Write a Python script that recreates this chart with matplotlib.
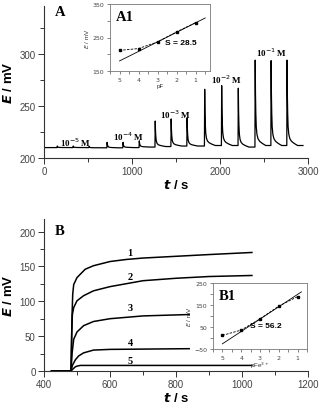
import numpy as np
import matplotlib
matplotlib.use("Agg")
import matplotlib.pyplot as plt
from matplotlib.ticker import MultipleLocator, FixedLocator

# ---------------- data: panel A (time trace) ----------------
spike_t = [151, 332, 513, 717, 898, 1083, 1264, 1445, 1626, 1826, 2019, 2208, 2400, 2581, 2762]
spike_E = [211.5, 211.5, 211.2, 215, 215, 216.5, 235.5, 237.5, 238.5, 266, 269.5, 267, 294, 293.5, 294]
base_after = [210, 210, 209.8, 209.8, 210, 210.5, 211, 211.5, 211.5, 212, 212, 210.5, 212, 212, 212]
trace_start = (0, 210)
trace_end = (2943, 212)
# decay profile of each spike (seconds after peak, remaining fraction)
decay_dt = [0, 3, 7, 12, 20, 32, 50, 80, 120]
decay_frac = [1.0, 0.62, 0.38, 0.22, 0.13, 0.08, 0.05, 0.025, 0.0]
conc_labels = ["10$^{-5}$ M", "10$^{-4}$ M", "10$^{-3}$ M", "10$^{-2}$ M", "10$^{-1}$ M"]
conc_t = [360, 962, 1490, 2075, 2585]
conc_E = [216, 221, 242, 276, 302]

# inset A1
a1_pF = [5, 4, 3, 2, 1]
a1_E = [211.5, 217, 237, 267, 294.5]
a1_fit_pF = [5.0, 0.5]
a1_slope = 28.5
a1_intercept = 322.5
a1_yticks = [150, 250, 350]
a1_yminor = [200, 300]

# ---------------- data: panel B ----------------
b_t = {
    1: [423, 482, 485, 487, 490, 500, 525, 550, 600, 650, 700, 800, 900, 1030],
    2: [423, 482, 484, 486, 490, 500, 520, 550, 600, 700, 800, 900, 1030],
    3: [423, 482, 485, 490, 500, 520, 550, 600, 700, 840],
    4: [423, 482, 486, 495, 505, 520, 550, 600, 840],
    5: [423, 482, 488, 495, 500, 510, 700, 1030],
}
b_E = {
    1: [0, 0, 80, 110, 124, 134, 146, 151, 157, 160, 162, 164.5, 167, 170],
    2: [0, 0, 55, 81, 91, 100.7, 108, 115, 121, 129.5, 133, 135.5, 137],
    3: [0, 0, 25, 45.5, 56, 65, 71, 75, 79, 81],
    4: [0, 0, 8, 16, 21.6, 26, 30, 31, 32],
    5: [0, 0, 3, 6, 7, 8, 8, 8],
}
b_label_t = [660, 660, 662, 662, 660]
b_label_E = [170, 136, 91, 41, 15]

# inset B1
b1_pF = [5, 4, 3, 2, 1]
b1_E = [12, 36, 87, 145, 188]
b1_fit_pF = [5.0, 0.8]
b1_slope = 56.2
b1_intercept = 254.5
b1_yticks = [-50, 50, 150, 250]
b1_yminor = [0, 100, 200]

# ---------------- build trace A ----------------
tA = [trace_start[0]]
EA = [trace_start[1]]
prev_base = trace_start[1]
for t0, pk, b in zip(spike_t, spike_E, base_after):
    tA += [t0 - 3]
    EA += [prev_base]
    for dt, fr in zip(decay_dt, decay_frac):
        tA.append(t0 + dt)
        EA.append(b + (pk - b) * fr)
    prev_base = b
tA.append(trace_end[0])
EA.append(trace_end[1])

W, H = 322, 410
fig = plt.figure(figsize=(W / 100, H / 100), dpi=100)

def frac(x0, y0, x1, y1):
    return [x0 / W, 1 - y1 / H, (x1 - x0) / W, (y1 - y0) / H]

tick_col = "#444444"
lab_font = dict(family="Liberation Sans", weight="bold", size=9.5)
serif_b = dict(family="Liberation Serif", weight="bold")

def style_main(ax):
    for s in ["top", "right"]:
        ax.spines[s].set_visible(False)
    for s in ["left", "bottom"]:
        ax.spines[s].set_linewidth(0.8)
        ax.spines[s].set_color("#333333")
    ax.tick_params(which="both", direction="out", color="#333333", width=0.7,
                   labelsize=7, labelcolor=tick_col, pad=2)
    ax.tick_params(which="major", length=4)
    ax.tick_params(which="minor", length=3)
    for lbl in ax.get_xticklabels() + ax.get_yticklabels():
        lbl.set_family("Liberation Sans")

def style_inset(ax, yt, ym):
    ax.xaxis.set_major_locator(MultipleLocator(1))
    ax.xaxis.set_minor_locator(MultipleLocator(0.5))
    ax.yaxis.set_major_locator(FixedLocator(yt))
    ax.yaxis.set_minor_locator(FixedLocator(ym))
    ax.tick_params(which="both", direction="out", labelsize=4.5, labelcolor=tick_col,
                   color="#555555", width=0.5, pad=1.5)
    ax.tick_params(which="major", length=2.5)
    ax.tick_params(which="minor", length=2.5)
    for s in ax.spines.values():
        s.set_linewidth(0.6)
        s.set_color("#777777")

# ---------------- panel A ----------------
axA = fig.add_axes(frac(44, 7, 308, 159))
axA.plot(tA, EA, color="black", lw=0.9)
axA.set_xlim(0, 3000)
axA.set_ylim(200, 346)
axA.xaxis.set_major_locator(MultipleLocator(1000))
axA.xaxis.set_minor_locator(MultipleLocator(500))
axA.yaxis.set_major_locator(MultipleLocator(50))
axA.yaxis.set_minor_locator(MultipleLocator(25))
style_main(axA)
axA.set_xlabel("$\\boldsymbol{t}$ / s", fontdict=lab_font, labelpad=1)
axA.set_ylabel("$\\boldsymbol{E}$ / mV", fontdict=lab_font, labelpad=3)
axA.text(0.04, 0.94, "A", transform=axA.transAxes, fontsize=10.5, **serif_b)
for lab, t, e in zip(conc_labels, conc_t, conc_E):
    axA.text(t, e, lab, ha="center", va="center", fontsize=6.5,
             family="Liberation Serif", weight="bold")

# inset A1
axA1 = fig.add_axes(frac(110, 5, 210, 72))
axA1.plot(a1_pF, a1_E, color="black", lw=0.6, ls=(0, (3, 1.5)), marker="s", ms=2)
fx = np.array(a1_fit_pF)
axA1.plot(fx, a1_intercept - a1_slope * fx, color="black", lw=0.6)
axA1.set_xlim(5.5, 0.25)
axA1.set_ylim(150, 350)
style_inset(axA1, a1_yticks, a1_yminor)
axA1.set_xlabel("pF", fontsize=4.5, family="Liberation Sans", labelpad=1, color="#333333")
axA1.set_ylabel("$\\mathit{E}$ / mV", fontsize=4.5, family="Liberation Sans", labelpad=1, color="#333333")
axA1.text(0.06, 0.76, "A1", transform=axA1.transAxes, fontsize=10.5, **serif_b)
axA1.text(1.8, 236, "S = 28.5", fontsize=6, ha="center", va="center",
          family="Liberation Sans", weight="bold")

# ---------------- panel B ----------------
axB = fig.add_axes(frac(44, 220, 308, 372))
for k in [1, 2, 3, 4, 5]:
    axB.plot(b_t[k], b_E[k], color="black", lw=1.1)
axB.set_xlim(400, 1200)
axB.set_ylim(0, 218)
axB.xaxis.set_major_locator(MultipleLocator(200))
axB.xaxis.set_minor_locator(MultipleLocator(100))
axB.yaxis.set_major_locator(MultipleLocator(50))
axB.yaxis.set_minor_locator(MultipleLocator(25))
style_main(axB)
axB.set_xlabel("$\\boldsymbol{t}$ / s", fontdict=lab_font, labelpad=1)
axB.set_ylabel("$\\boldsymbol{E}$ / mV", fontdict=lab_font, labelpad=3)
axB.text(0.04, 0.9, "B", transform=axB.transAxes, fontsize=10.5, **serif_b)
for i, (t, e) in enumerate(zip(b_label_t, b_label_E)):
    axB.text(t, e, str(i + 1), ha="center", va="center", fontsize=7.5, **serif_b)

# inset B1
axB1 = fig.add_axes(frac(213, 284, 307, 350))
axB1.plot(b1_pF, b1_E, color="black", lw=0.6, ls=(0, (3, 1.5)), marker="s", ms=2)
fx = np.array(b1_fit_pF)
axB1.plot(fx, b1_intercept - b1_slope * fx, color="black", lw=0.6)
axB1.set_xlim(5.5, 0.5)
axB1.set_ylim(-50, 250)
style_inset(axB1, b1_yticks, b1_yminor)
axB1.set_xlabel("pFe$^{3+}$", fontsize=4.5, family="Liberation Sans", labelpad=0, color="#333333")
axB1.set_ylabel("$\\mathit{E}$ / mV", fontsize=4.5, family="Liberation Sans", labelpad=1, color="#333333")
axB1.text(0.06, 0.76, "B1", transform=axB1.transAxes, fontsize=10.5, **serif_b)
axB1.text(2.7, 59, "S = 56.2", fontsize=6, ha="center", va="center",
          family="Liberation Sans", weight="bold")

fig.savefig("out.png", dpi=100)
